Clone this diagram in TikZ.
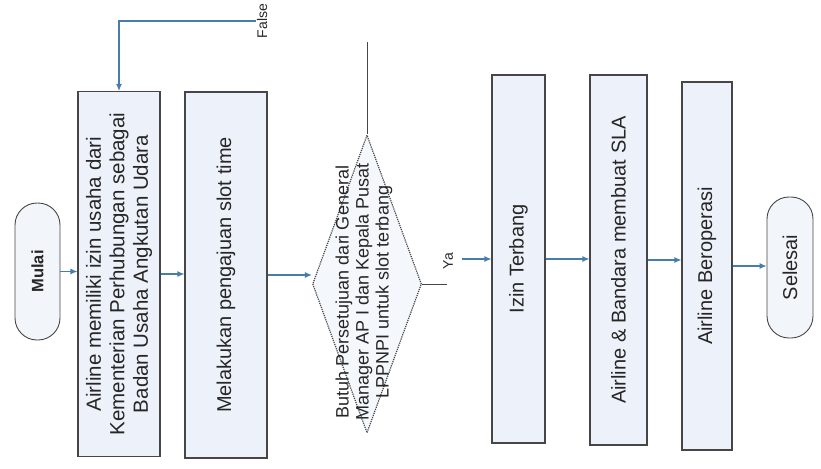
\documentclass[tikz,border=0pt]{standalone}
\usepackage{fontspec}
\setmainfont{Liberation Sans}
\usetikzlibrary{shapes.geometric,arrows.meta}
\definecolor{isibox}{RGB}{237,242,250}
\definecolor{garis}{RGB}{70,70,70}
\definecolor{panahbiru}{RGB}{70,125,170}
\tikzset{
	proses/.style={draw=garis, line width=1.1pt, fill=isibox, rotate=90, align=center, inner sep=0pt, text=black!85, font=\fontsize{20}{23.5}\selectfont},
	terminal/.style={draw=garis, line width=0.9pt, fill=isibox!70, rotate=90, rounded corners=22pt, inner sep=0pt, text=black!85, font=\fontsize{20}{24}\selectfont},
	keputusan/.style={diamond, draw=garis, densely dotted, line width=1.2pt, fill=isibox!60, inner sep=0pt},
	label/.style={rotate=90, inner sep=1pt, text=black!85, font=\fontsize{14}{16}\selectfont},
	panah/.style={draw=panahbiru, line width=1.1pt, -{Latex[length=7pt,width=6pt]}},
	garispolos/.style={draw=garis, line width=1pt},
}
\begin{document}
\begin{tikzpicture}[x=1pt, y=-1pt]
	\useasboundingbox (0,0) rectangle (821,468);
	% langkah-langkah
	\node[terminal, minimum width=137pt, minimum height=45pt, font=\bfseries\fontsize{16.5}{20}\selectfont] (mulai) at (37.5,271.5) {Mulai};
	\node[proses, minimum width=365pt, minimum height=82pt, font=\fontsize{20.5}{23.5}\selectfont] (izinusaha) at (119,274) {Airline memiliki izin usaha dari\\Kementerian Perhubungan sebagai\\Badan Usaha Angkutan Udara};
	\node[proses, minimum width=366pt, minimum height=82pt] (slottime) at (226,275) {Melakukan pengajuan slot time};
	\node[keputusan, minimum width=109pt, minimum height=298pt] (cek) at (367,284) {};
	\node[rotate=90, align=center, inner sep=0pt, text=black!85, font=\fontsize{18}{20}\selectfont] (cektxt) at (364,292) {Butuh Persetujuan dari General\\Manager AP I dan Kepala Pusat\\LPPNPI untuk slot terbang};
	\node[proses, minimum width=368pt, minimum height=53pt] (izinterbang) at (518.5,259) {Izin Terbang};
	\node[proses, minimum width=370pt, minimum height=57pt] (sla) at (618.5,260) {Airline \& Bandara membuat SLA};
	\node[proses, minimum width=368pt, minimum height=50pt] (operasi) at (707,266) {Airline Beroperasi};
	\node[terminal, minimum width=141pt, minimum height=46pt] (selesai) at (790,267.5) {Selesai};
	% label cabang
	\node[label] (lblfalse) at (262,21) {False};
	\node[label] (lblya) at (448,261) {Ya};
	\coordinate (falseatas) at (367,42);
	\coordinate (yaujung) at (447,284);
	\coordinate (yamasuk) at (462,259);
	% panah
	\foreach \a/\b in {mulai/izinusaha, izinusaha/slottime, izinterbang/sla, sla/operasi, operasi/selesai}
	{
		\draw[panah] (\a.south) -- (\a.south -| \b.north);
	}
	\draw[panah] (slottime.south) -- (slottime.south -| cek.west);
	\draw[garispolos] (cek.north) -- (falseatas);
	\draw[panah] (lblfalse.north) -| (izinusaha.east);
	\draw[garispolos] (cek.east) -- (yaujung);
	\draw[panah] (yamasuk) -- (yamasuk -| izinterbang.north);
\end{tikzpicture}
\end{document}
